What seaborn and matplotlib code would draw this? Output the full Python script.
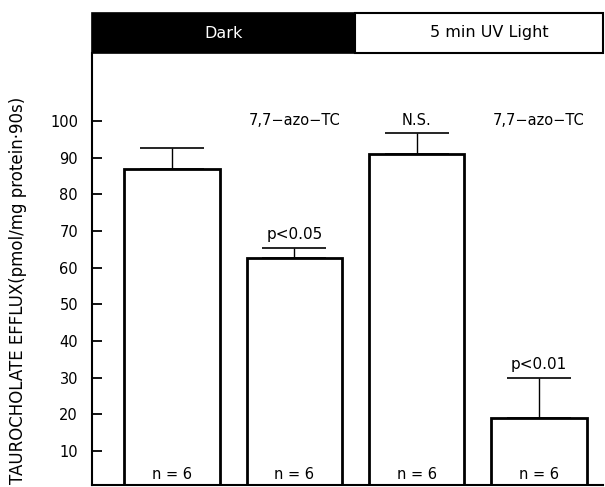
import matplotlib
matplotlib.use("Agg")
import matplotlib.pyplot as plt
import matplotlib.transforms as mtransforms
from matplotlib.patches import Rectangle
import seaborn as sns
import pandas as pd
import numpy as np

# ---- data ----
groups = ["Dark control", "Dark 7,7-azo-TC", "UV control", "UV 7,7-azo-TC"]
efflux = [87.0, 62.5, 91.0, 19.0]
sem = [5.7, 2.9, 5.8, 11.0]
n_labels = ["n = 6", "n = 6", "n = 6", "n = 6"]
sig_labels = ["", "p<0.05", "N.S.", "p<0.01"]
treat_labels = ["", "7,7\u2212azo\u2212TC", "", "7,7\u2212azo\u2212TC"]
header_labels = ["Dark", "5 min UV Light"]
yticks = [10, 20, 30, 40, 50, 60, 70, 80, 90, 100]
ylabel = "TAUROCHOLATE EFFLUX(pmol/mg protein\u00b790s)"

df = pd.DataFrame({"group": groups, "efflux": efflux})

sns.set_theme(style="white")
plt.rcParams["font.family"] = ["DejaVu Sans"]
plt.rcParams["text.color"] = "black"
plt.rcParams["axes.labelcolor"] = "black"
plt.rcParams["ytick.color"] = "black"

fig = plt.figure(figsize=(6.05, 4.87), dpi=100)
ax = fig.add_axes([92 / 605, 2 / 487, (603 - 92) / 605, (485 - 53) / 487])

sns.barplot(data=df, x="group", y="efflux", order=groups, color="white",
            edgecolor="black", linewidth=2.0, width=0.78, errorbar=None, ax=ax)

x = np.arange(len(groups))
ax.errorbar(x, efflux, yerr=[np.zeros(len(sem)), sem], fmt="none",
            ecolor="black", elinewidth=1.0, capsize=23, capthick=1.2, zorder=1)

ax.set_xlim(-0.654, 3.524)
ax.set_ylim(0.76, 118.5)
ax.set_yticks(yticks)
ax.set_yticklabels([str(t) for t in yticks], fontsize=10.5, color="black")
ax.set_xticks([])
ax.set_xlabel("")
ax.set_ylabel(ylabel, fontsize=12, color="black")
ax.yaxis.set_label_coords(-0.128, 0.45)
ax.tick_params(axis="y", direction="in", length=7, width=1.3, left=True, pad=10,
               colors="black")

for side in ["top", "right"]:
    ax.spines[side].set_visible(False)
for side in ["left", "bottom"]:
    ax.spines[side].set_color("black")
    ax.spines[side].set_linewidth(1.5)

# annotations
for i in range(len(groups)):
    ax.text(x[i], 3.5, n_labels[i], ha="center", va="center", fontsize=10.5, color="black")
    top = efflux[i] + sem[i]
    if sig_labels[i] and sig_labels[i] != "N.S.":
        ax.text(x[i], top + 3.6, sig_labels[i], ha="center", va="center",
                fontsize=11, color="black")
    if treat_labels[i]:
        ax.text(x[i], 100.2, treat_labels[i], ha="center", va="center",
                fontsize=10.5, color="black")
ax.text(x[2], 100.2, sig_labels[2], ha="center", va="center", fontsize=10.5, color="black")

# header band
trans = mtransforms.blended_transform_factory(ax.transData, ax.transAxes)
h0, h1 = 1.0, 1.0 + 40 / 432
ax.add_patch(Rectangle((-0.654, h0), 1.5 + 0.654, h1 - h0, transform=trans,
                       facecolor="black", edgecolor="black", lw=1.2, clip_on=False))
ax.add_patch(Rectangle((1.5, h0), 3.524 - 1.5, h1 - h0, transform=trans,
                       facecolor="white", edgecolor="black", lw=1.5, clip_on=False))
ax.text((-0.654 + 1.5) / 2, (h0 + h1) / 2, header_labels[0], transform=trans,
        ha="center", va="center", color="white", fontsize=11.5)
ax.text((1.5 + 3.524) / 2 + 0.08, (h0 + h1) / 2, header_labels[1], transform=trans,
        ha="center", va="center", color="black", fontsize=11.5)

fig.savefig("out.png", dpi=100)
